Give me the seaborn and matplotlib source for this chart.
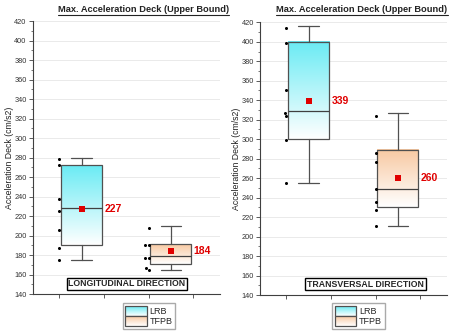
import numpy as np
import pandas as pd
import matplotlib
matplotlib.use("Agg")
import matplotlib.pyplot as plt
import seaborn as sns
from matplotlib.colors import LinearSegmentedColormap
from matplotlib.legend_handler import HandlerBase
from matplotlib.image import BboxImage
from matplotlib.transforms import Bbox, TransformedBbox
from matplotlib.patches import Rectangle
from matplotlib.lines import Line2D
from matplotlib.ticker import MultipleLocator

# ---------------- data ----------------
title = "Max. Acceleration Deck (Upper Bound)"
ylabel = "Acceleration Deck (cm/s2)"
directions = ["LONGITUDINAL DIRECTION", "TRANSVERSAL DIRECTION"]
isolators = ["LRB", "TFPB"]

# raw data points
long_lrb = [278.5, 272, 237, 225, 206, 187, 175]
long_tfpb = [208, 190, 190, 177, 177, 167, 165]
trans_lrb = [414, 399, 350, 327, 324, 299, 255.5]
trans_tfpb = [324, 286, 277, 249, 236, 227, 211]

# box statistics [LRB, TFPB]
long_q1 = [190, 171]
long_med = [228, 179]
long_q3 = [272, 191]
long_lo = [175, 165]
long_hi = [279, 210]
long_mean = [227, 184]

trans_q1 = [300, 230]
trans_med = [329, 249]
trans_q3 = [400, 289]
trans_lo = [255.5, 211]
trans_hi = [416.5, 327]
trans_mean = [339, 260]

# ---------------- style ----------------
sns.set_theme(style="ticks")
plt.rcParams["font.family"] = ["Liberation Sans", "DejaVu Sans"]

cmaps = [
    LinearSegmentedColormap.from_list("lrb", ["#ffffff", "#6aebf4"]),
    LinearSegmentedColormap.from_list("tfpb", ["#ffffff", "#f8c9a2"]),
]
EDGE = "#505050"
RED = "#e00000"

fig = plt.figure(figsize=(4.57, 3.33), dpi=100)
ax1 = fig.add_axes([0.0722, 0.1171, 0.409, 0.8198])
ax2 = fig.add_axes([0.569, 0.1141, 0.409, 0.8189])


class GradHandler(HandlerBase):
    def __init__(self, cmap):
        super().__init__()
        self.cmap = cmap

    def create_artists(self, legend, orig_handle, xdescent, ydescent,
                       width, height, fontsize, trans):
        bb = TransformedBbox(Bbox.from_bounds(-xdescent, -ydescent, width, height), trans)
        img = BboxImage(bb, cmap=self.cmap, origin="lower")
        img.set_data(np.linspace(0, 1, 64).reshape(-1, 1))
        rect = Rectangle((-xdescent, -ydescent), width, height, fill=False,
                         edgecolor=EDGE, lw=0.9, transform=trans)
        return [img, rect]


def panel(ax, lrb, tfpb, q1, med, q3, lo, hi, mean, label, lab_xy, leg_x):
    df = pd.DataFrame({
        "pos": [0.75] * len(lrb) + [1.75] * len(tfpb),
        "value": lrb + tfpb,
    })
    ax.set_ylim(140, 420)
    ax.set_xlim(0.455, 2.55)
    ax.yaxis.set_major_locator(MultipleLocator(20))
    ax.yaxis.set_minor_locator(MultipleLocator(10))
    ax.grid(axis="y", which="major", color="#e6e6e6", lw=0.6)

    stats = [dict(q1=q1[i], med=med[i], q3=q3[i], whislo=lo[i], whishi=hi[i],
                  label=isolators[i]) for i in range(2)]
    bp = ax.bxp(stats, positions=[1, 2], widths=0.46, patch_artist=True,
                showfliers=False, manage_ticks=False, capwidths=0.23,
                boxprops=dict(facecolor="none", edgecolor=EDGE, lw=0.9, zorder=2.6),
                whiskerprops=dict(color=EDGE, lw=0.9, zorder=2.6),
                capprops=dict(color=EDGE, lw=0.9, zorder=2.6),
                medianprops=dict(color="#404040", lw=0.9, zorder=2.7))
    for patch, cmap in zip(bp["boxes"], cmaps):
        ext = patch.get_path().get_extents()
        ax.imshow(np.linspace(0, 1, 256).reshape(-1, 1),
                  extent=[ext.x0, ext.x1, ext.y0, ext.y1], origin="lower",
                  aspect="auto", cmap=cmap, zorder=2.5)

    sns.swarmplot(data=df, x="pos", y="value", native_scale=True, orient="x",
                  color="black", size=2.2, ax=ax, zorder=3)

    mdf = pd.DataFrame({"pos": [1, 2], "mean": mean})
    sns.scatterplot(data=mdf, x="pos", y="mean", marker="s", s=20, color=RED,
                    edgecolor="none", ax=ax, zorder=4)
    for p, m in zip(mdf["pos"], mdf["mean"]):
        ax.text(p + 0.255, m, f"{m:.0f}", color=RED, fontweight="bold",
                fontsize=7.5, va="center", ha="left", zorder=5)

    ax.set_ylim(140, 420)
    ax.set_xlim(0.455, 2.55)
    ax.set_xticks([0.75, 1.25, 1.75, 2.25])
    ax.set_xticklabels([])
    ax.set_xlabel("")
    ax.set_ylabel(ylabel, fontsize=6.3, color="#222222")
    ax.yaxis.set_label_coords(-0.102, 0.5)
    sns.despine(ax=ax)
    for s in ["left", "bottom"]:
        ax.spines[s].set_color("#404040")
        ax.spines[s].set_linewidth(0.8)
    ax.tick_params(axis="both", which="major", length=3, width=0.6,
                   color="#404040", labelsize=5.3, labelcolor="#333333", pad=1.5)
    ax.tick_params(axis="y", which="minor", length=1.8, width=0.5, color="#404040")
    ax.set_axisbelow(True)

    ax.text(lab_xy[0], lab_xy[1], label, transform=ax.transAxes, ha="center",
            va="center", fontsize=6.3, fontweight="bold", zorder=6,
            bbox=dict(boxstyle="square,pad=0.2", fc="white", ec="black", lw=1.0))

    h1 = Rectangle((0, 0), 1, 1)
    h2 = Rectangle((0, 0), 1, 1)
    fig.legend([h1, h2], isolators, loc="center", bbox_to_anchor=(leg_x, 0.051),
               bbox_transform=fig.transFigure,
               handler_map={h1: GradHandler(cmaps[0]), h2: GradHandler(cmaps[1])},
               fontsize=6.5, handlelength=2.4, handleheight=1.25, labelspacing=0.05,
               handletextpad=0.3, borderpad=0.3, borderaxespad=0,
               fancybox=False, framealpha=1, edgecolor="#aaaaaa")


panel(ax1, long_lrb, long_tfpb, long_q1, long_med, long_q3, long_lo, long_hi,
      long_mean, directions[0], (0.503, 0.037), 0.326)
panel(ax2, trans_lrb, trans_tfpb, trans_q1, trans_med, trans_q3, trans_lo, trans_hi,
      trans_mean, directions[1], (0.564, 0.040), 0.784)

titles = []
for xr in [229 / 457, 447.5 / 457]:
    t = fig.text(xr, 1 - 10 / 333, title, ha="right", va="center",
                 fontsize=6.7, fontweight="bold", color="#222222")
    titles.append(t)

fig.canvas.draw()
for t in titles:
    bb = t.get_window_extent()
    y = (bb.y0 - 0.5) / fig.bbox.height
    fig.add_artist(Line2D([bb.x0 / fig.bbox.width, bb.x1 / fig.bbox.width], [y, y],
                          transform=fig.transFigure, color="#222222", lw=0.8))

fig.savefig("out.png", dpi=100)
